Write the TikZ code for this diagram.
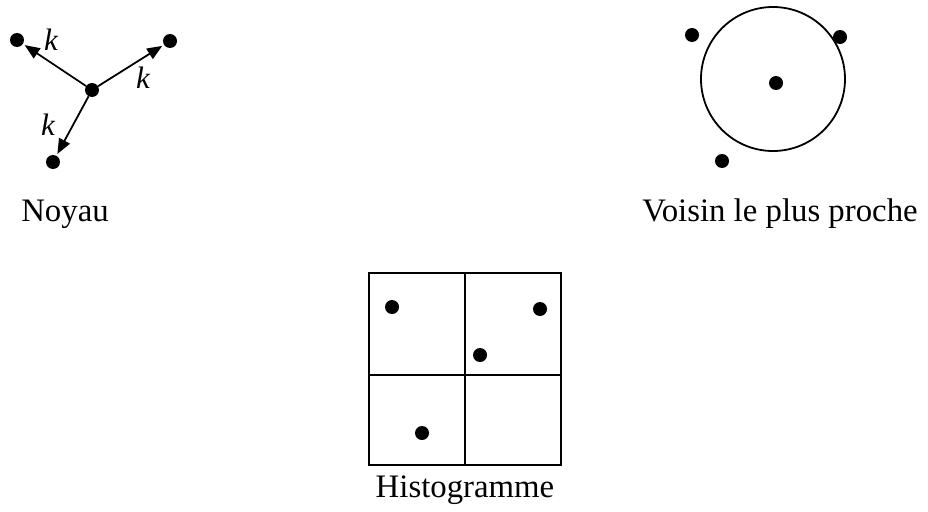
\documentclass[tikz,border=0pt]{standalone}
\usepackage{fontspec}
\setmainfont{Liberation Serif}
\usetikzlibrary{arrows.meta}
\begin{document}
\begin{tikzpicture}[x=1pt,y=-1pt,
  pt/.style={circle,fill=black,inner sep=0pt,minimum size=14pt},
  karrow/.style={-{Triangle[length=15pt,width=12pt]},line width=1.8pt,shorten >=2pt},
  klabel/.style={font=\fontsize{31}{36}\selectfont\itshape,inner sep=0pt},
  caption/.style={font=\fontsize{32.8}{40}\selectfont,inner sep=0pt},
  frame/.style={line width=1.8pt}]
\useasboundingbox (0,0) rectangle (928,511);

% Kernel: arrows of length k from a centre point
\node[pt] (c) at (92,90) {};
\node[pt] (a) at (17,40) {};
\node[pt] (b) at (170,41) {};
\node[pt] (d) at (53,162) {};
\draw[karrow] (c) -- (a);
\draw[karrow] (c) -- (b);
\draw[karrow] (c) -- (d);
\node[klabel] (ka) at (51,40) {k};
\node[klabel] (kb) at (143,78) {k};
\node[klabel] (kd) at (48,125) {k};
\node[caption] (noyau) at (65,214) {Noyau};

% Nearest neighbour: circle around a point
\node[circle,draw,frame,minimum size=144pt,inner sep=0pt] (ring) at (773,79) {};
\node[pt] (n0) at (776,83) {};
\node[pt] (n1) at (692,35) {};
\node[pt] (n2) at (840,37) {};
\node[pt] (n3) at (722,161) {};
\node[caption] (vois) at (780,214) {Voisin le plus proche};

% Histogram: 2x2 grid of bins
\coordinate (tl) at (369,273);
\coordinate (br) at (561,465);
\draw[frame] (tl) rectangle (br);
\draw[frame] (465,273) -- (465,465);
\draw[frame] (369,375) -- (561,375);
\node[pt] (h1) at (392,307) {};
\node[pt] (h2) at (540,309) {};
\node[pt] (h3) at (480,355) {};
\node[pt] (h4) at (422,433) {};
\node[caption] (hist) at (465,490) {Histogramme};
\end{tikzpicture}
\end{document}
